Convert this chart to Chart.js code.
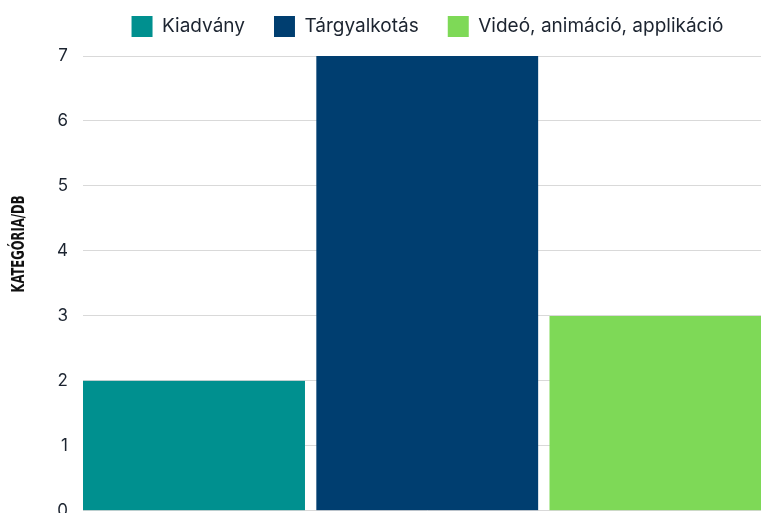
<!DOCTYPE html>
<html>
<head>
<meta charset="utf-8">
<script src="https://cdn.jsdelivr.net/npm/chart.js@4/dist/chart.umd.min.js"></script>
<style>
  html, body { margin: 0; padding: 0; background: #fff; overflow: hidden; }
  #wrap { width: 772px; height: 536px; }
</style>
</head>
<body>
<div id="wrap"><canvas id="chart"></canvas></div>
<script>
const categories = ['']
const seriesNames = ['Kiadvány', 'Tárgyalkotás', 'Videó, animáció, applikáció']
const kiadvany = [2]
const targyalkotas = [7]
const video = [3]
const yTicks = [0, 1, 2, 3, 4, 5, 6, 7]
const yTitle = 'KATEGÓRIA/DB'

const clear = 'rgba(0,0,0,0)'

// y axis title sits above the middle of the plot, so it is drawn by hand
const yTitlePlugin = {
    id: 'yTitle',
    afterDraw(chart) {
        const ctx = chart.ctx
        ctx.save()
        ctx.translate(18.5, 244)
        ctx.rotate(-Math.PI / 2)
        ctx.font = 'bold 18px "Liberation Sans Narrow", "DejaVu Sans Condensed", sans-serif'
        const w = ctx.measureText(yTitle).width
        ctx.scale(97 / w, 1)
        ctx.fillStyle = '#111'
        ctx.textAlign = 'center'
        ctx.textBaseline = 'middle'
        ctx.fillText(yTitle, 0, 1)
        ctx.restore()
    }
}

// a bit more room between legend and plot
const legendGap = {
    id: 'legendGap',
    beforeInit(chart) {
        const fit = chart.legend.fit
        chart.legend.fit = function () {
            fit.call(this)
            this.height += 9
        }
    }
}

function chartData() {
    return {
        labels: categories,
        datasets: [{
                label: seriesNames[0],
                data: kiadvany,
                backgroundColor: '#00908f',
                borderColor: clear,
                borderWidth: {top: 0, right: 8, bottom: 0, left: 0}
            }, {
                label: seriesNames[1],
                data: targyalkotas,
                backgroundColor: '#003e70',
                borderColor: clear,
                borderWidth: {top: 0, right: 4.5, bottom: 0, left: 4}
            }, {
                label: seriesNames[2],
                data: video,
                backgroundColor: '#7ed957',
                borderColor: clear,
                borderWidth: {top: 0, right: 0, bottom: 0, left: 7.5}
            }]
    }
}

const config = {
    type: 'bar',
    data: chartData(),
    options: {
        responsive: true,
        maintainAspectRatio: false,
        animation: false,
        layout: {padding: {top: -13, left: 42, right: 0, bottom: 0}},
        datasets: {bar: {barPercentage: 1, categoryPercentage: 1}},
        plugins: {
            legend: {
                position: 'top',
                fullSize: false,
                labels: {
                    boxWidth: 21,
                    boxHeight: 21,
                    padding: 29,
                    color: '#1c2430',
                    font: {family: 'Inter', size: 19}
                }
            },
            tooltip: {enabled: false}
        },
        scales: {
            x: {display: false},
            y: {
                min: 0,
                max: 7,
                afterBuildTicks: axis => { axis.ticks = yTicks.map(v => ({value: v})) },
                border: {display: false},
                grid: {color: '#d9d9d9', drawTicks: false},
                ticks: {color: '#1c2430', padding: 15, font: {family: 'Inter', size: 17}}
            }
        }
    },
    plugins: [yTitlePlugin, legendGap]
}

new Chart(document.getElementById('chart').getContext('2d'), config)
</script>
</body>
</html>
